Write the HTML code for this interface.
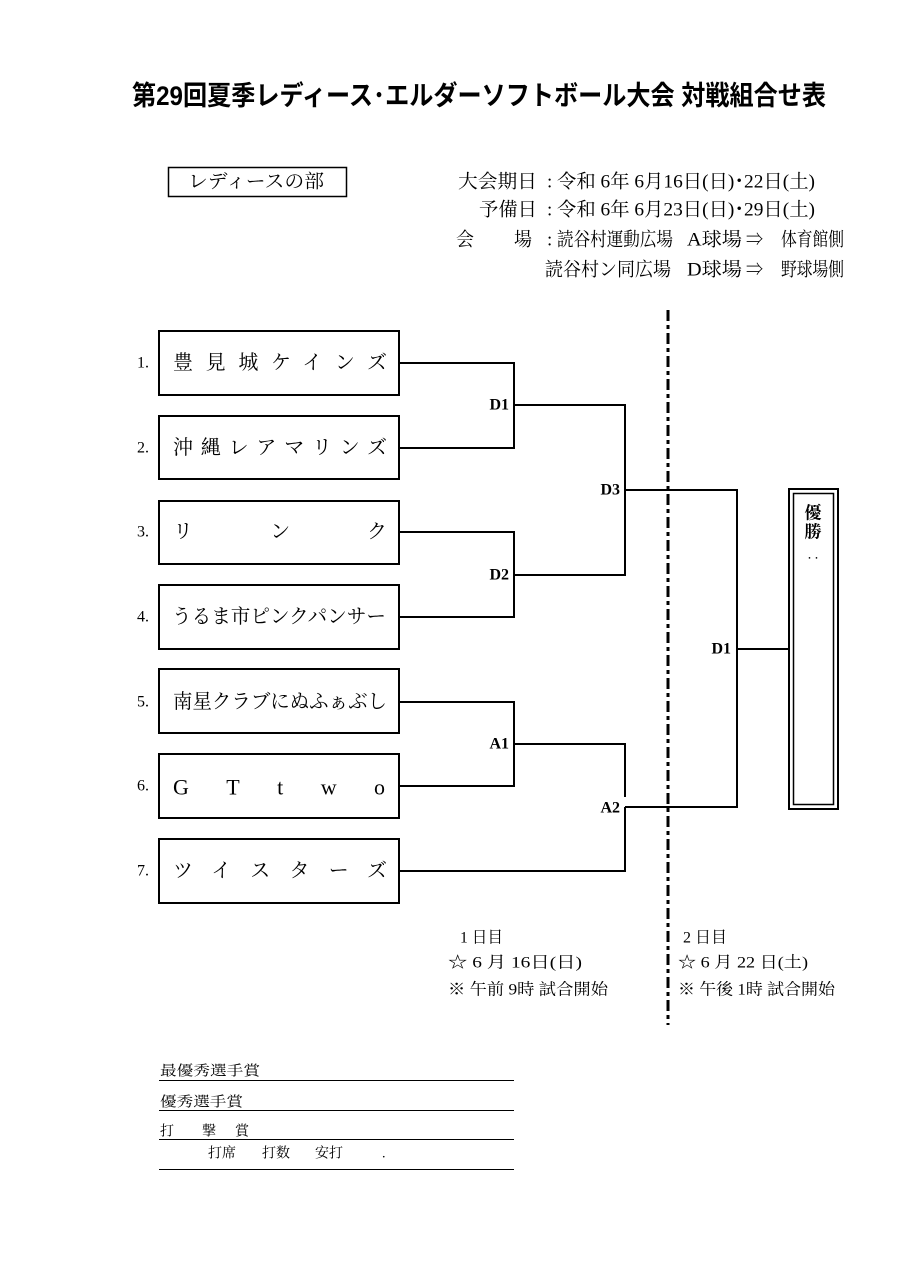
<!DOCTYPE html>
<html><head><meta charset="utf-8"><style>
html,body{margin:0;padding:0;background:#fff;}
svg{display:block;}
.s{font-family:"Liberation Serif","Noto Serif CJK SC",serif;fill:#000;}
.g{font-family:"Liberation Sans","Noto Sans CJK JP",sans-serif;fill:#000;}
</style></head><body>
<svg width="905" height="1280" viewBox="0 0 905 1280" xmlns="http://www.w3.org/2000/svg">
<rect width="905" height="1280" fill="#fff"/>

<!-- Title -->
<text x="132" y="96" class="g" font-size="27" font-weight="bold" dominant-baseline="central" textLength="694" lengthAdjust="spacingAndGlyphs">第29回夏季レディース･エルダーソフトボール大会 対戦組合せ表</text>

<!-- Header box -->
<rect x="168.5" y="167.5" width="178" height="29" fill="none" stroke="#000" stroke-width="1.5"/>
<text x="188" y="182" class="s" font-size="19" dominant-baseline="central" textLength="136" lengthAdjust="spacingAndGlyphs">レディースの部</text>

<!-- Header info -->
<g class="s" font-size="19" dominant-baseline="central">
<text x="458" y="182" textLength="79" lengthAdjust="spacingAndGlyphs">大会期日</text>
<text x="547" y="182">:</text>
<text x="557" y="182" textLength="258" lengthAdjust="spacingAndGlyphs">令和 6年 6月16日(日)･22日(土)</text>

<text x="479" y="210" textLength="58" lengthAdjust="spacingAndGlyphs">予備日</text>
<text x="547" y="210">:</text>
<text x="557" y="210" textLength="258" lengthAdjust="spacingAndGlyphs">令和 6年 6月23日(日)･29日(土)</text>

<text x="456" y="240" textLength="18" lengthAdjust="spacingAndGlyphs">会</text>
<text x="514" y="240" textLength="18" lengthAdjust="spacingAndGlyphs">場</text>
<text x="547" y="240">:</text>
<text x="557" y="240" textLength="116" lengthAdjust="spacingAndGlyphs">読谷村運動広場</text>
<text x="687" y="240" textLength="55" lengthAdjust="spacingAndGlyphs">A球場</text>
<text x="746" y="240" textLength="17" lengthAdjust="spacingAndGlyphs">⇒</text>
<text x="781" y="240" textLength="63" lengthAdjust="spacingAndGlyphs">体育館側</text>

<text x="545" y="270" textLength="126" lengthAdjust="spacingAndGlyphs">読谷村ン同広場</text>
<text x="687" y="270" textLength="55" lengthAdjust="spacingAndGlyphs">D球場</text>
<text x="746" y="270" textLength="17" lengthAdjust="spacingAndGlyphs">⇒</text>
<text x="781" y="270" textLength="63" lengthAdjust="spacingAndGlyphs">野球場側</text>
</g>

<!-- Team boxes -->
<g fill="none" stroke="#000" stroke-width="2">
<rect x="159" y="331" width="240" height="64"/>
<rect x="159" y="416" width="240" height="63"/>
<rect x="159" y="501" width="240" height="63"/>
<rect x="159" y="585" width="240" height="64"/>
<rect x="159" y="669" width="240" height="64"/>
<rect x="159" y="754" width="240" height="64"/>
<rect x="159" y="839" width="240" height="64"/>
</g>

<!-- Numbers -->
<g class="s" font-size="16" dominant-baseline="central">
<text x="137" y="363">1.</text>
<text x="137" y="448">2.</text>
<text x="137" y="532">3.</text>
<text x="137" y="617">4.</text>
<text x="137" y="702">5.</text>
<text x="137" y="786">6.</text>
<text x="137" y="871">7.</text>
</g>

<!-- Team names -->
<g class="s" font-size="20" dominant-baseline="central">
<text x="173" y="363" textLength="214" lengthAdjust="spacing">豊見城ケインズ</text>
<text x="173" y="448" textLength="214" lengthAdjust="spacing">沖縄レアマリンズ</text>
<text x="173" y="532" textLength="214" lengthAdjust="spacing">リンク</text>
<text x="172" y="617" textLength="214" lengthAdjust="spacingAndGlyphs">うるま市ピンクパンサー</text>
<text x="173" y="702" textLength="214" lengthAdjust="spacingAndGlyphs">南星クラブにぬふぁぶし</text>
<text x="173" y="787" font-size="22" textLength="212" lengthAdjust="spacing">GTtwo</text>
<text x="173" y="871" textLength="214" lengthAdjust="spacing">ツイスターズ</text>
</g>

<!-- Connectors -->
<g fill="none" stroke="#000" stroke-width="2">
<polyline points="399,363 514,363 514,448 399,448"/>
<polyline points="514,405 625,405 625,575 514,575"/>
<polyline points="399,532 514,532 514,617 399,617"/>
<polyline points="625,490 737,490 737,807 625,807"/>
<polyline points="399,702 514,702 514,786 399,786"/>
<polyline points="514,744 625,744 625,797"/>
<polyline points="625,807 625,871 399,871"/>
<line x1="737" y1="649" x2="789" y2="649"/>
</g>

<!-- Dash-dot divider -->
<line x1="668" y1="310" x2="668" y2="1025" stroke="#000" stroke-width="3" stroke-dasharray="11 4 4 4"/>

<!-- Match labels -->
<g class="s" font-size="16" font-weight="bold" dominant-baseline="central" text-anchor="end">
<text x="509" y="405">D1</text>
<text x="509" y="575">D2</text>
<text x="620" y="490">D3</text>
<text x="509" y="744">A1</text>
<text x="620" y="808">A2</text>
<text x="731" y="649">D1</text>
</g>

<!-- Winner box -->
<rect x="789" y="489" width="49" height="320" fill="none" stroke="#000" stroke-width="2"/>
<rect x="793.5" y="493.5" width="40" height="311" fill="none" stroke="#000" stroke-width="1.5"/>
<g class="s" font-size="17" font-weight="bold" dominant-baseline="central" text-anchor="middle">
<text x="813" y="513">優</text>
<text x="813" y="532">勝</text>
<text x="813" y="560" font-size="14">‥</text>
</g>

<!-- Day info -->
<g class="s" font-size="16" dominant-baseline="central">
<text x="460" y="938" textLength="43" lengthAdjust="spacingAndGlyphs">1 日目</text>
<text x="448" y="963" textLength="134" lengthAdjust="spacingAndGlyphs">☆ 6 月 16日(日)</text>
<text x="448" y="990" textLength="160" lengthAdjust="spacingAndGlyphs">※ 午前 9時 試合開始</text>
<text x="683" y="938" textLength="44" lengthAdjust="spacingAndGlyphs">2 日目</text>
<text x="678" y="963" textLength="130" lengthAdjust="spacingAndGlyphs">☆ 6 月 22 日(土)</text>
<text x="678" y="990" textLength="157" lengthAdjust="spacingAndGlyphs">※ 午後 1時 試合開始</text>
</g>

<!-- Awards -->
<g stroke="#000" stroke-width="1">
<line x1="159" y1="1080.5" x2="514" y2="1080.5"/>
<line x1="159" y1="1110.5" x2="514" y2="1110.5"/>
<line x1="159" y1="1139.5" x2="514" y2="1139.5"/>
<line x1="159" y1="1169.5" x2="514" y2="1169.5"/>
</g>
<g class="s" font-size="14" dominant-baseline="central">
<text x="160" y="1072" textLength="100" lengthAdjust="spacingAndGlyphs">最優秀選手賞</text>
<text x="160" y="1103" textLength="83" lengthAdjust="spacingAndGlyphs">優秀選手賞</text>
<text x="160" y="1132">打</text>
<text x="202" y="1132">撃</text>
<text x="235" y="1132">賞</text>
<text x="208" y="1154">打席</text>
<text x="262" y="1154">打数</text>
<text x="315" y="1154">安打</text>
<text x="382" y="1154">.</text>
</g>
</svg>
</body></html>
